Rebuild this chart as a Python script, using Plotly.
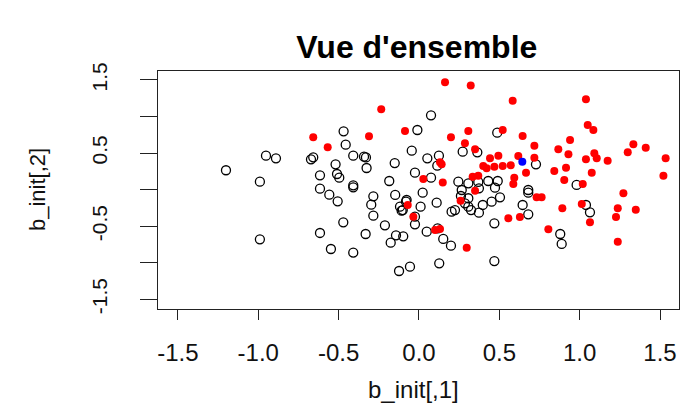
import plotly.graph_objects as go

# Initial coefficient estimates, split by group
grey_x = [-1.201, -0.990, -0.952, -0.890, -0.990, -0.469, -0.456, -0.658, -0.672, -0.519,
          -0.409, -0.342, -0.330, -0.326, -0.151, -0.616, -0.510, -0.496, -0.409, -0.409,
          -0.616, -0.558, -0.506, -0.185, -0.284, -0.297, -0.148, -0.284, -0.471, -0.212,
          -0.616, -0.332, -0.143, -0.098, -0.176, -0.548, -0.409, -0.124, -0.056, -0.118,
          -0.108, -0.081, -0.045, 0.075, -0.010, 0.487, 0.052, 0.124, 0.114, 0.272,
          0.363, 0.728, -0.025, 0.075, 0.245, 0.307, 0.369, 0.431, 0.490, 0.473,
          0.373, 0.266, 0.023, 0.680, 0.680, 0.981, 0.261, 0.307, 0.504, 0.452,
          0.397, 0.286, 0.307, 0.224, 0.203, 0.324, 0.373, 0.110, -0.077, -0.101,
          0.010, -0.025, -0.025, 0.048, 0.116, 0.151, 0.199, 0.645, 0.680, 0.469,
          1.039, 1.064, 0.879, 0.888, 0.126, 0.469]
grey_y = [0.265, 0.109, 0.465, 0.428, -0.680, 0.798, 0.615, 0.442, 0.415, 0.346,
          0.465, 0.451, 0.440, 0.296, 0.364, 0.196, 0.214, 0.164, 0.059, 0.032,
          0.013, -0.069, -0.160, 0.118, -0.091, -0.206, -0.073, -0.356, -0.447, -0.488,
          -0.593, -0.607, -0.625, -0.639, -0.725, -0.812, -0.862, -1.113, -1.054, -0.233,
          -0.288, -0.165, 0.533, 1.017, 0.816, 0.779, 0.428, 0.465, 0.328, 0.519,
          0.510, 0.346, 0.232, 0.164, 0.109, 0.087, 0.105, 0.118, 0.118, 0.027,
          0.018, -0.005, -0.041, -0.005, -0.041, 0.064, -0.087, -0.118, -0.105, -0.165,
          -0.210, -0.187, -0.233, -0.279, -0.301, -0.279, -0.315, -0.178, -0.142, -0.279,
          -0.233, -0.370, -0.475, -0.575, -0.530, -0.675, -0.766, -0.210, -0.338, -0.461,
          -0.210, -0.311, -0.607, -0.743, -1.008, -0.977]

red_x = [-0.235, -0.658, -0.568, -0.311, -0.087, 0.162, 0.322, 0.583, 1.039, 0.307,
         0.521, 0.199, 0.286, 0.645, 0.940, 1.050, 1.085, 0.718, 0.867, 0.930,
         1.091, 1.039, 1.106, 1.174, 1.299, 1.334, 1.411, 1.535, 1.521, 0.718,
         0.618, 0.349, 0.442, 0.494, 0.400, 0.469, 0.521, 0.571, 0.421, 0.131,
         0.141, 0.666, 0.593, 0.587, 0.334, 0.369, 0.027, 0.148, 0.842, 0.915,
         1.075, 0.904, 1.019, 1.272, 0.349, 0.732, 0.763, 0.259, -0.070, -0.035,
         0.892, 1.013, 1.237, 1.349, 1.226, 1.064, 0.556, 0.628, 0.805, 0.100,
         0.131, 0.297, 1.237]
red_y = [1.099, 0.716, 0.579, 0.729, 0.802, 1.468, 1.423, 1.217, 1.236, 0.802,
         0.816, 0.716, 0.634, 0.734, 0.679, 0.884, 0.816, 0.601, 0.551, 0.483,
         0.497, 0.415, 0.428, 0.396, 0.510, 0.620, 0.574, 0.428, 0.191, 0.437,
         0.460, 0.551, 0.428, 0.465, 0.324, 0.314, 0.324, 0.333, 0.292, 0.374,
         0.346, 0.232, 0.164, 0.077, 0.177, 0.191, 0.146, 0.096, 0.255, 0.301,
         0.232, 0.132, 0.077, -0.050, -0.014, -0.105, -0.105, -0.151, -0.210, -0.370,
         -0.256, -0.196, -0.256, -0.274, -0.374, -0.447, -0.392, -0.374, -0.543, -0.552,
         -0.538, -0.794, -0.712]

blue_x = [0.643]
blue_y = [0.382]

x_ticks = [-1.5, -1.0, -0.5, 0.0, 0.5, 1.0, 1.5]
x_tick_labels = ["-1.5", "-1.0", "-0.5", "0.0", "0.5", "1.0", "1.5"]
y_ticks = [-1.5, -1.0, -0.5, 0.0, 0.5, 1.0, 1.5]
y_tick_labels = ["-1.5", "", "-0.5", "", "0.5", "", "1.5"]

FONT = "Liberation Sans, Arial, sans-serif"

fig = go.Figure()
fig.add_trace(go.Scatter(
    x=grey_x, y=grey_y, mode="markers",
    marker=dict(symbol="circle-open", size=9, color="black", line=dict(width=1.3, color="black")),
))
fig.add_trace(go.Scatter(
    x=red_x, y=red_y, mode="markers",
    marker=dict(symbol="circle", size=8, color="#ff0000", line=dict(width=0)),
))
fig.add_trace(go.Scatter(
    x=blue_x, y=blue_y, mode="markers",
    marker=dict(symbol="circle", size=8, color="#0000ff", line=dict(width=0)),
))

fig.update_layout(
    width=681, height=405,
    margin=dict(l=158, r=2, t=71, b=96),
    paper_bgcolor="white", plot_bgcolor="white",
    showlegend=False,
    title=dict(text="<b>Vue d'ensemble</b>", x=0.612, xanchor="center",
               y=1 - 47 / 405, yanchor="middle",
               font=dict(family=FONT, size=32, color="black")),
    font=dict(family=FONT, color="black"),
)
fig.update_xaxes(
    range=[-1.624, 1.618], showgrid=False, zeroline=False,
    showline=True, mirror=True, linecolor="#222", linewidth=1.4,
    ticks="outside", ticklen=10, tickwidth=1.3, tickcolor="#222",
    tickvals=x_ticks, ticktext=x_tick_labels,
    tickfont=dict(family=FONT, size=24, color="#111"),
    ticklabelstandoff=12,
)
fig.update_yaxes(
    range=[-1.633, 1.623], showgrid=False, zeroline=False,
    showline=True, mirror=True, linecolor="#222", linewidth=1.4,
    ticks="outside", ticklen=17, tickwidth=1.3, tickcolor="#222",
    tickvals=y_ticks, ticktext=y_tick_labels, tickangle=-90,
    tickfont=dict(family=FONT, size=21, color="#111"),
    ticklabelstandoff=24,
)
fig.add_annotation(text="b_init[,1]", xref="paper", yref="paper",
                   x=(413 - 158) / 521, y=(309 - 389) / 238,
                   xanchor="center", yanchor="middle", showarrow=False,
                   font=dict(family=FONT, size=24, color="#111"))
fig.add_annotation(text="b_init[,2]", xref="paper", yref="paper",
                   x=(37 - 158) / 521, y=(309 - 190) / 238, textangle=-90,
                   xanchor="center", yanchor="middle", showarrow=False,
                   font=dict(family=FONT, size=22, color="#111"))

fig.write_html("out.html")
